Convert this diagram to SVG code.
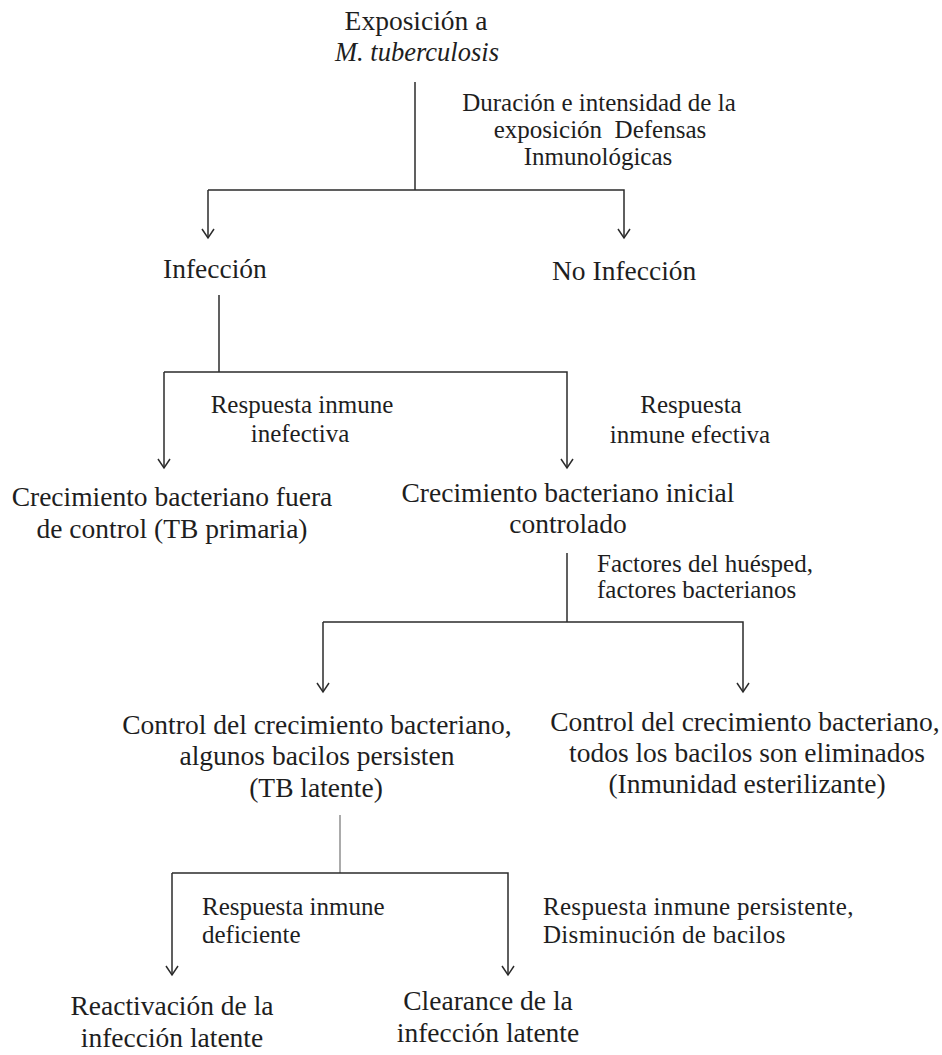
<svg xmlns="http://www.w3.org/2000/svg" width="942" height="1055" viewBox="0 0 942 1055">
<style>
.n{font-size:27.5px}
.l{font-size:25px}
.c{text-anchor:middle}
.ln{fill:none;stroke:#2b2b2b;stroke-width:1.5}
.thin{fill:none;stroke:#666;stroke-width:1.1}
</style>
<defs>
<marker id="ah" viewBox="-11 -7 13 14" markerWidth="13" markerHeight="14" refX="0" refY="0" orient="auto" markerUnits="userSpaceOnUse">
<path d="M-9,-6 L0,0 L-9,6" fill="none" stroke="#2b2b2b" stroke-width="1.5"/>
</marker>
</defs>
<rect width="942" height="1055" fill="#fff"/>
<g id="connectors">
<path class="ln" d="M415,82 V190"/>
<path class="ln" d="M208,190 H624 V238" marker-end="url(#ah)"/>
<path class="ln" d="M208,190 V238" marker-end="url(#ah)"/>
<path class="ln" d="M219,295 V372"/>
<path class="ln" d="M164,372 H567 V468" marker-end="url(#ah)"/>
<path class="ln" d="M164,372 V468" marker-end="url(#ah)"/>
<path class="ln" d="M567,553 V622"/>
<path class="ln" d="M323,622 H743 V692" marker-end="url(#ah)"/>
<path class="ln" d="M323,622 V692" marker-end="url(#ah)"/>
<path class="thin" d="M340,815 V873"/>
<path class="ln" d="M172,873 H508 V975" marker-end="url(#ah)"/>
<path class="ln" d="M172,873 V975" marker-end="url(#ah)"/>
</g>
<g font-family="Liberation Serif, Times New Roman, serif" fill="#1e1e1e">
<g id="n-exposicion">
<text class="n c" x="416" y="30">Exposición a</text>
<text class="c" x="417" y="61" font-size="26.5" font-style="italic">M. tuberculosis</text>
</g>
<g id="l-duracion">
<text class="l c" x="599" y="111">Duración e intensidad de la</text>
<text class="l c" x="600" y="138" xml:space="preserve">exposición  Defensas</text>
<text class="l c" x="598" y="165">Inmunológicas</text>
</g>
<g id="n-infeccion"><text class="n" x="163" y="278">Infección</text></g>
<g id="n-noinfeccion"><text class="n" x="552" y="280">No Infección</text></g>
<g id="l-inefectiva">
<text class="l c" x="302" y="413">Respuesta inmune</text>
<text class="l c" x="300" y="442">inefectiva</text>
</g>
<g id="l-efectiva">
<text class="l c" x="691" y="413">Respuesta</text>
<text class="l c" x="690" y="443">inmune efectiva</text>
</g>
<g id="n-fuera">
<text class="n c" x="172" y="506">Crecimiento bacteriano fuera</text>
<text class="n c" x="172" y="538">de control (TB primaria)</text>
</g>
<g id="n-inicial">
<text class="n c" x="568" y="502">Crecimiento bacteriano inicial</text>
<text class="n c" x="568" y="533">controlado</text>
</g>
<g id="l-factores">
<text class="l" x="597" y="572">Factores del huésped,</text>
<text class="l" x="597" y="598">factores bacterianos</text>
</g>
<g id="n-latente">
<text class="n c" x="317" y="734">Control del crecimiento bacteriano,</text>
<text class="n c" x="317" y="765">algunos bacilos persisten</text>
<text class="n c" x="316" y="797">(TB latente)</text>
</g>
<g id="n-esterilizante">
<text class="n c" x="745" y="731">Control del crecimiento bacteriano,</text>
<text class="n c" x="747" y="762">todos los bacilos son eliminados</text>
<text class="n c" x="747" y="793">(Inmunidad esterilizante)</text>
</g>
<g id="l-deficiente">
<text class="l" x="202" y="915">Respuesta inmune</text>
<text class="l" x="202" y="943">deficiente</text>
</g>
<g id="l-persistente">
<text class="l" x="543" y="915" letter-spacing="0.3">Respuesta inmune persistente,</text>
<text class="l" x="543" y="943" letter-spacing="0.3">Disminución de bacilos</text>
</g>
<g id="n-reactivacion">
<text class="n c" x="172" y="1015">Reactivación de la</text>
<text class="n c" x="172" y="1047">infección latente</text>
</g>
<g id="n-clearance">
<text class="n c" x="488" y="1010">Clearance de la</text>
<text class="n c" x="488" y="1042">infección latente</text>
</g>
</g>
</svg>
